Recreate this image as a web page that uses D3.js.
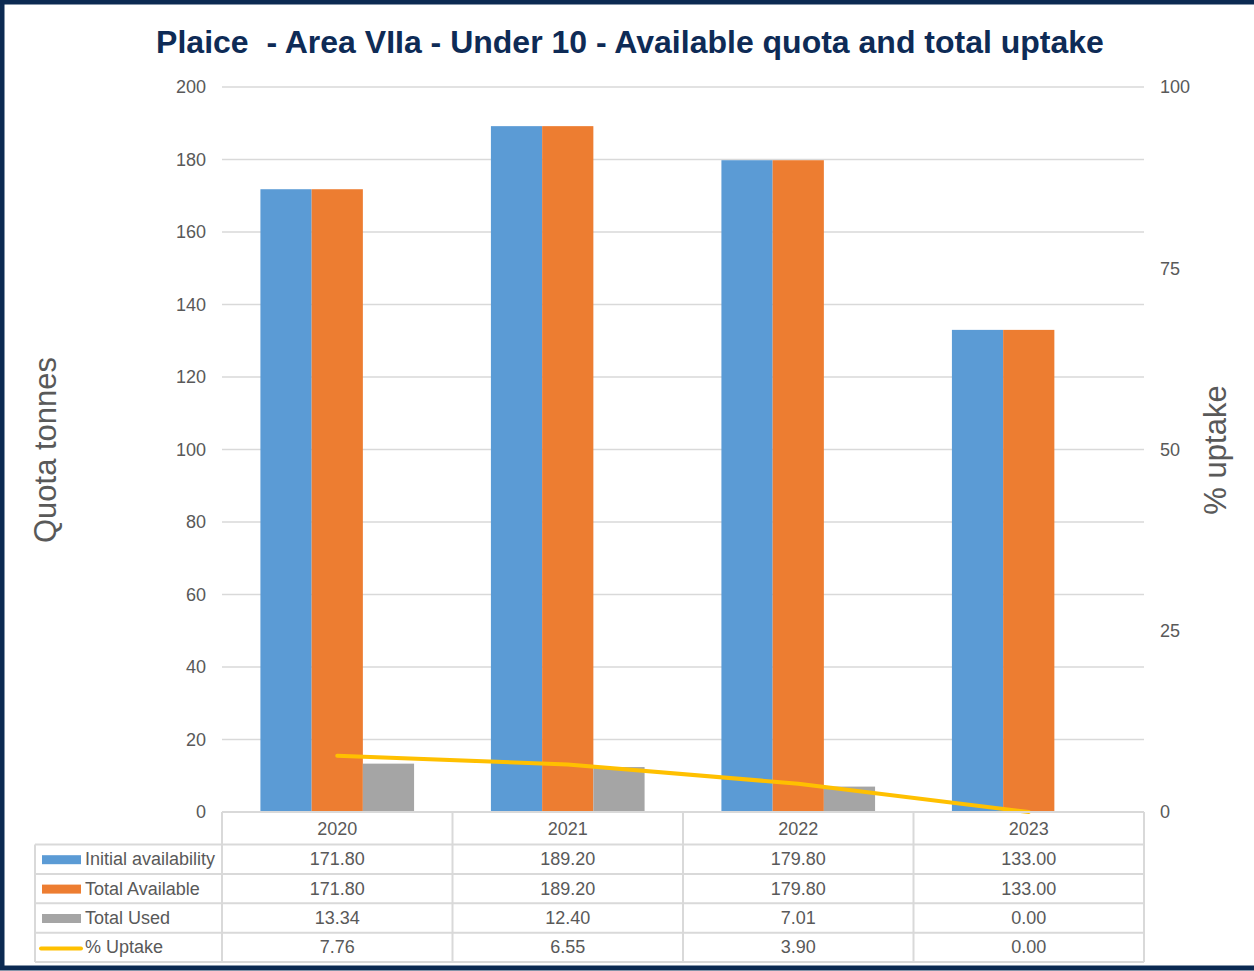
<!DOCTYPE html>
<html>
<head>
<meta charset="utf-8">
<script src="https://cdn.jsdelivr.net/npm/d3@7"></script>
<style>
  body { margin: 0; background: #fff; }
  text { font-family: "Liberation Sans", Arial, sans-serif; }
</style>
</head>
<body>
<svg id="chart" width="1254" height="971"></svg>
<script>
// chart data
var years = ["2020", "2021", "2022", "2023"];
var initialAvailability = [171.80, 189.20, 179.80, 133.00];
var totalAvailable = [171.80, 189.20, 179.80, 133.00];
var totalUsed = [13.34, 12.40, 7.01, 0.00];
var pctUptake = [7.76, 6.55, 3.90, 0.00];
var leftTicks = [0, 20, 40, 60, 80, 100, 120, 140, 160, 180, 200];
var rightTicks = [0, 25, 50, 75, 100];

var seriesNames = ["Initial availability", "Total Available", "Total Used", "% Uptake"];
var colors = ["#5B9BD5", "#ED7D31", "#A5A5A5", "#FFC000"];

var svg = d3.select("#chart");

// frame
svg.append("rect")
  .attr("x", 2).attr("y", 2).attr("width", 1260).attr("height", 966)
  .attr("fill", "none").attr("stroke", "#0B2A52").attr("stroke-width", 5);

var plotLeft = 222, plotRight = 1144, plotTop = 87, plotBottom = 812;

var x = d3.scaleBand().domain(years).range([plotLeft, plotRight]);
var y = d3.scaleLinear().domain([0, 200]).range([plotBottom, plotTop]);
var y2 = d3.scaleLinear().domain([0, 100]).range([plotBottom, plotTop]);

// title
svg.append("text")
  .attr("x", 630).attr("y", 53)
  .attr("text-anchor", "middle")
  .attr("font-size", 32).attr("font-weight", "bold")
  .attr("fill", "#0E2B56")
  .style("white-space", "pre")
  .text("Plaice  - Area VIIa - Under 10 - Available quota and total uptake");

// gridlines
svg.append("g").selectAll("line")
  .data(leftTicks.filter(d => d > 0))
  .enter().append("line")
  .attr("x1", plotLeft).attr("x2", plotRight)
  .attr("y1", d => y(d)).attr("y2", d => y(d))
  .attr("stroke", "#D9D9D9").attr("stroke-width", 1.3);

// left axis labels
var leftAxis = svg.append("g")
  .attr("transform", "translate(" + (plotLeft - 16) + ",0)")
  .call(d3.axisLeft(y).tickValues(leftTicks).tickSize(0).tickPadding(0));
leftAxis.select(".domain").remove();
leftAxis.selectAll("text").attr("font-size", 18).attr("fill", "#595959")
  .attr("font-family", "Liberation Sans, Arial, sans-serif");

// right axis labels
var rightAxis = svg.append("g")
  .attr("transform", "translate(" + (plotRight + 16) + ",0)")
  .call(d3.axisRight(y2).tickValues(rightTicks).tickSize(0).tickPadding(0));
rightAxis.select(".domain").remove();
rightAxis.selectAll("text").attr("font-size", 18).attr("fill", "#595959")
  .attr("font-family", "Liberation Sans, Arial, sans-serif");

// axis titles
svg.append("text")
  .attr("transform", "translate(56,450) rotate(-90)")
  .attr("text-anchor", "middle")
  .attr("font-size", 31).attr("fill", "#595959")
  .text("Quota tonnes");
svg.append("text")
  .attr("transform", "translate(1226,450) rotate(-90)")
  .attr("text-anchor", "middle")
  .attr("font-size", 31).attr("fill", "#595959")
  .text("% uptake");

// bars
var barSeries = [initialAvailability, totalAvailable, totalUsed];
var inner = d3.scaleBand().domain([0, 1, 2])
  .range([0, x.bandwidth()]).paddingOuter(0.75).paddingInner(0);

barSeries.forEach(function(vals, si) {
  svg.append("g").selectAll("rect")
    .data(vals)
    .enter().append("rect")
    .attr("x", (d, i) => x(years[i]) + inner(si))
    .attr("y", d => y(d))
    .attr("width", inner.bandwidth())
    .attr("height", d => plotBottom - y(d))
    .attr("fill", colors[si]);
});

// uptake line
var line = d3.line()
  .x((d, i) => x(years[i]) + x.bandwidth() / 2)
  .y(d => y2(d));
svg.append("path")
  .datum(pctUptake)
  .attr("d", line)
  .attr("fill", "none")
  .attr("stroke", colors[3])
  .attr("stroke-width", 4)
  .attr("stroke-linecap", "round");

// data table
var headH = 32.5, rowH = 29.4;
var tableLeft = 35;
var rows = [initialAvailability, totalAvailable, totalUsed, pctUptake];
var table = svg.append("g");
var gridColor = "#D9D9D9";
var rowTop = r => plotBottom + headH + rowH * r;
var tableBottom = rowTop(4);

table.append("line")
  .attr("x1", plotLeft).attr("x2", plotRight).attr("y1", plotBottom).attr("y2", plotBottom)
  .attr("stroke", gridColor).attr("stroke-width", 2);
for (var r = 0; r <= 4; r++) {
  table.append("line")
    .attr("x1", tableLeft).attr("x2", plotRight)
    .attr("y1", rowTop(r)).attr("y2", rowTop(r))
    .attr("stroke", gridColor).attr("stroke-width", 2);
}
var vx = years.map(d => x(d)).concat([plotRight]);
vx.forEach(function(vv) {
  table.append("line")
    .attr("x1", vv).attr("x2", vv)
    .attr("y1", plotBottom).attr("y2", tableBottom)
    .attr("stroke", gridColor).attr("stroke-width", 2);
});
table.append("line")
  .attr("x1", tableLeft).attr("x2", tableLeft)
  .attr("y1", rowTop(0)).attr("y2", tableBottom)
  .attr("stroke", gridColor).attr("stroke-width", 2);

// header labels
table.selectAll("text.year")
  .data(years).enter().append("text")
  .attr("class", "year")
  .attr("x", d => x(d) + x.bandwidth() / 2)
  .attr("y", plotBottom + headH / 2 + 6.5)
  .attr("text-anchor", "middle")
  .attr("font-size", 18).attr("fill", "#595959")
  .text(d => d);

rows.forEach(function(vals, ri) {
  var cy = rowTop(ri) + rowH / 2;
  // legend key
  if (ri < 3) {
    table.append("rect")
      .attr("x", 42).attr("y", cy - 4).attr("width", 39).attr("height", 9)
      .attr("fill", colors[ri]);
  } else {
    table.append("line")
      .attr("x1", 41).attr("x2", 81).attr("y1", cy + 1).attr("y2", cy + 1)
      .attr("stroke", colors[ri]).attr("stroke-width", 4)
      .attr("stroke-linecap", "round");
  }
  table.append("text")
    .attr("x", 85).attr("y", cy + 6)
    .attr("font-size", 18).attr("fill", "#595959")
    .text(seriesNames[ri]);
  table.selectAll(null)
    .data(vals).enter().append("text")
    .attr("x", (d, i) => x(years[i]) + x.bandwidth() / 2)
    .attr("y", cy + 6)
    .attr("text-anchor", "middle")
    .attr("font-size", 18).attr("fill", "#595959")
    .text(d => d3.format(".2f")(d));
});
</script>
</body>
</html>
